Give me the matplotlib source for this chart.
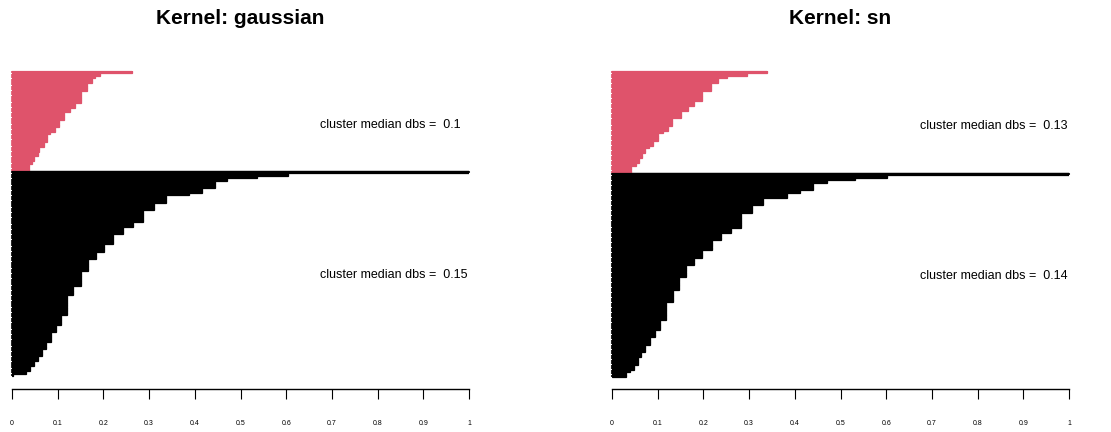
import numpy as np
import matplotlib
matplotlib.use('Agg')
import matplotlib.pyplot as plt

plt.rcParams['font.family'] = ['Liberation Sans', 'DejaVu Sans']

# density-based silhouette values (value, number of bars)
gauss_red_vals = [0.262, 0.193, 0.182, 0.176, 0.164, 0.151, 0.137, 0.126, 0.113, 0.103,
                  0.093, 0.084, 0.076, 0.071, 0.060, 0.056, 0.049, 0.043, 0.037]
gauss_red_cnt = [1, 1, 1, 2, 3, 5, 2, 2, 3, 3, 2, 1, 3, 2, 2, 2, 2, 1, 3]
gauss_blk_vals = [1.0, 0.605, 0.537, 0.471, 0.444, 0.416, 0.387, 0.336, 0.310, 0.286,
                  0.264, 0.242, 0.222, 0.202, 0.184, 0.166, 0.151, 0.134, 0.120, 0.107,
                  0.096, 0.085, 0.074, 0.065, 0.056, 0.049, 0.039, 0.030, 0.002]
gauss_blk_cnt = [1, 1, 1, 1, 3, 2, 1, 3, 3, 5, 2, 3, 4, 3, 3, 5, 6, 4, 8, 4,
                 3, 4, 3, 3, 2, 2, 2, 1, 1]

sn_red_vals = [0.340, 0.295, 0.251, 0.233, 0.217, 0.198, 0.180, 0.166, 0.151, 0.132,
               0.123, 0.112, 0.101, 0.090, 0.081, 0.072, 0.065, 0.058, 0.052, 0.042]
sn_red_cnt = [1, 1, 1, 2, 3, 4, 2, 2, 3, 3, 2, 1, 3, 2, 1, 2, 2, 2, 1, 3]
sn_blk_vals = [1.0, 0.601, 0.532, 0.470, 0.440, 0.411, 0.382, 0.331, 0.306, 0.282,
               0.260, 0.239, 0.218, 0.198, 0.180, 0.163, 0.147, 0.133, 0.118, 0.105,
               0.093, 0.083, 0.072, 0.063, 0.056, 0.049, 0.039, 0.030]
sn_blk_cnt = [1, 1, 1, 1, 3, 1, 2, 3, 3, 6, 2, 3, 4, 3, 3, 5, 5, 5, 7, 4,
              3, 3, 3, 2, 3, 2, 1, 2]

panels = [
    ('Kernel: gaussian', gauss_red_vals, gauss_red_cnt, gauss_blk_vals, gauss_blk_cnt,
     ['0.1', '0.15'], 12, 71, 376),
    ('Kernel: sn', sn_red_vals, sn_red_cnt, sn_blk_vals, sn_blk_cnt,
     ['0.13', '0.14'], 612, 71, 377),
]
medians_label = 'cluster median dbs =  '
red = '#DF536B'

W, H = 1111, 432
fig = plt.figure(figsize=(W / 100, H / 100), dpi=100)

for title, rv, rc, bv, bc, meds, x0, ytop, ybot in panels:
    red_x = np.repeat(rv, rc)
    blk_x = np.repeat(bv, bc)
    n = len(red_x) + len(blk_x)
    ppu = (ybot - ytop) / n
    axbot = 389
    ax = fig.add_axes([x0 / W, 1 - axbot / H, 457 / W, (axbot - ytop) / H])
    ax.set_xlim(0, 1)
    ax.set_ylim(-0.5 + (axbot - ytop) / ppu, -0.5)
    y_red = np.arange(len(red_x))
    y_blk = np.arange(len(blk_x)) + len(red_x)
    for yy, xx, col in [(y_red, red_x, red), (y_blk, blk_x, 'black')]:
        ax.barh(yy, xx, height=1.0, color=col, edgecolor=col, linewidth=0.9)
        # R segments have round ends
        lc = ax.hlines(yy, 0, xx, colors=col, linewidth=ppu * 0.72 * 0.9, clip_on=False)
        lc.set_capstyle('round')
    ax.text(0.673, y_red.mean() + 1.5, medians_label + meds[0], fontsize=9, va='center', ha='left')
    ax.text(0.673, y_blk.mean() + 0.5, medians_label + meds[1], fontsize=9, va='center', ha='left')

    for s in ['top', 'left', 'right']:
        ax.spines[s].set_visible(False)
    ax.spines['bottom'].set_linewidth(1)
    ax.set_yticks([])
    ticks = np.round(np.arange(0, 1.01, 0.1), 1)
    ax.set_xticks(ticks)
    ax.set_xticklabels(['0' if t == 0 else ('1' if t == 1 else f'{t:g}') for t in ticks])
    ax.tick_params(axis='x', direction='out', length=7, width=0.8, labelsize=5, pad=15)
    fig.text((x0 + 228) / W, 1 - 19 / H, title, fontsize=15, fontweight='bold',
             ha='center', va='center')

fig.savefig('out.png', dpi=100)
